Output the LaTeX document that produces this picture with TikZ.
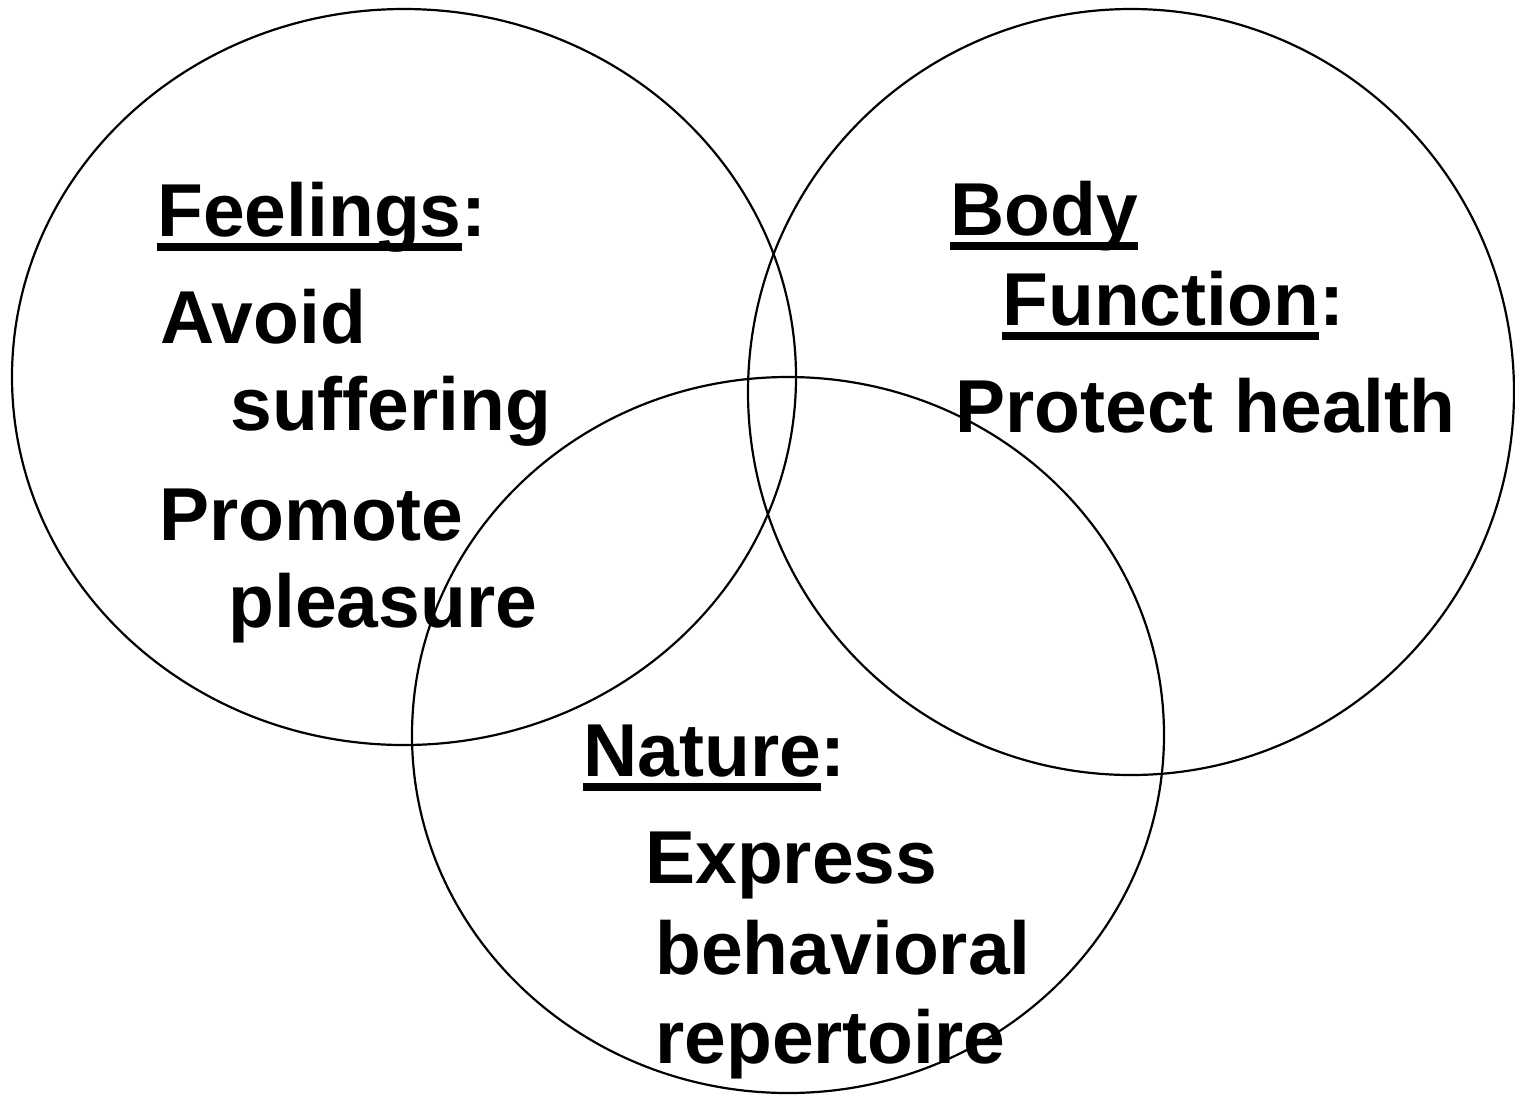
\documentclass[tikz,border=0pt]{standalone}
\usepackage{fontspec}
\setmainfont{Liberation Sans}
\usetikzlibrary{positioning}

% underlined heading word
\newcommand{\ulword}[1]{\setbox0\hbox{#1}\rlap{\rule[-7.5pt]{\wd0}{4pt}}\box0}

\begin{document}
\begin{tikzpicture}[
            x=0.5pt, y=-0.5pt,
            ring/.style={draw, line width=1.1pt},
            txt/.style={anchor=base west, inner sep=0pt, font=\bfseries\fontsize{37.5}{44}\selectfont}
        ]
            \useasboundingbox (0,0) rectangle (1515,1094);

            % --- three sets ---
            \draw[ring] (404,377) ellipse [x radius=196pt, y radius=184pt];
            \draw[ring] (1131,392) ellipse [x radius=191.5pt, y radius=191.5pt];
            \draw[ring] (788,735) ellipse [x radius=188pt, y radius=179pt];

            % --- Feelings ---
            \node[txt] (feelTitle) at (157,236) {\ulword{Feelings}:};
            \node[txt] (feelAvoid) at (160,343) {Avoid};
            \node[txt] (feelSuffer) at (230,430) {suffering};
            \node[txt] (feelPromote) at (159,540) {Promote};
            \node[txt] (feelPleasure) at (228,627) {pleasure};

            % --- Body Function ---
            \node[txt] (bodyTitle) at (950,235) {\ulword{Body}};
            \node[txt] (bodyFunc) at (1002,325) {\ulword{Function}:};
            \node[txt] (bodyHealth) at (955,432) {Protect health};

            % --- Nature ---
            \node[txt] (natTitle) at (583,776) {\ulword{Nature}:};
            \node[txt] (natExpress) at (645,883) {Express};
            \node[txt] (natBehav) at (655,974) {behavioral};
            \node[txt] (natRepert) at (655,1063) {repertoire};

        \end{tikzpicture}
\end{document}
